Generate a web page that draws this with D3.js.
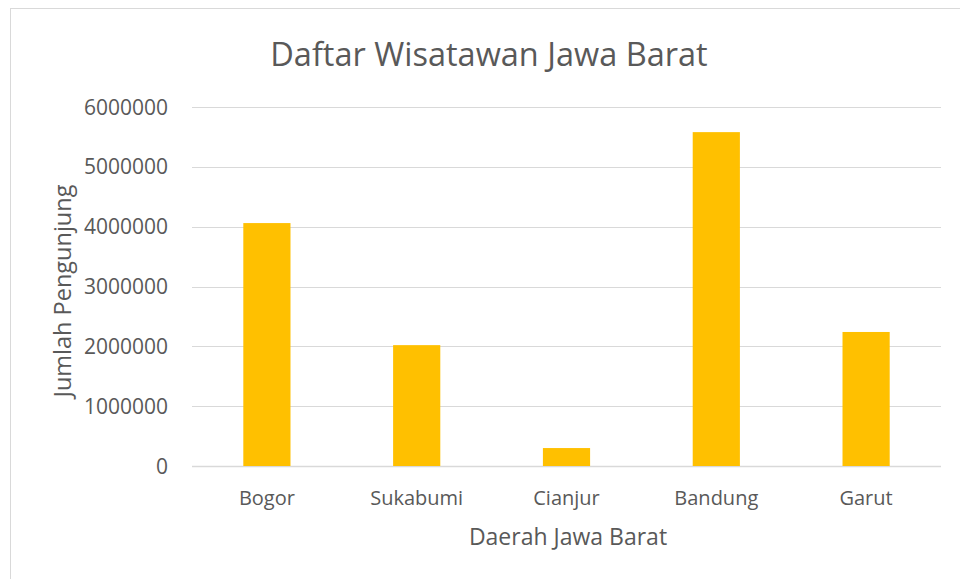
<!DOCTYPE html>
<html>
<head>
<meta charset="utf-8">
<script src="https://cdn.jsdelivr.net/npm/d3@7"></script>
<style>
  body { margin: 0; background: #fff; }
  svg text { font-family: 'Open Sans', sans-serif; fill: #595959; }
</style>
</head>
<body>
<svg id="chart"></svg>
<script>
var width = 960,
    height = 579;

// data
let categories = ['Bogor', 'Sukabumi', 'Cianjur', 'Bandung', 'Garut'];
let visitors = [4060000, 2020000, 300000, 5580000, 2240000];
let yTicks = [0, 1000000, 2000000, 3000000, 4000000, 5000000, 6000000];

let svg = d3.select('#chart').attr('width', width).attr('height', height);

// outer chart border
svg.append('rect')
    .attr('x', 10.5).attr('y', 8.5)
    .attr('width', width + 10).attr('height', height + 10)
    .attr('fill', 'none')
    .attr('stroke', '#d9d9d9');

let plotLeft = 192, plotRight = 941, plotTop = 107, plotBottom = 466;

let x = d3.scaleBand().domain(categories).range([plotLeft, plotRight]).paddingInner(0.685).paddingOuter(0.3425);
let y = d3.scaleLinear().domain([0, 6000000]).range([plotBottom, plotTop]);

// gridlines
svg.append('g').selectAll('line')
    .data(yTicks)
    .enter()
    .append('line')
    .attr('x1', plotLeft).attr('x2', plotRight)
    .attr('y1', function(d) { return Math.round(y(d)) + 0.5; })
    .attr('y2', function(d) { return Math.round(y(d)) + 0.5; })
    .attr('stroke', '#d9d9d9')
    .attr('stroke-width', function(d) { return d === 0 ? 1.5 : 1.2; });

// y tick labels
svg.append('g').selectAll('text')
    .data(yTicks)
    .enter()
    .append('text')
    .attr('x', 168)
    .attr('y', function(d) { return y(d); })
    .attr('dy', '0.36em')
    .attr('text-anchor', 'end')
    .attr('font-size', '21px')
    .text(function(d) { return d; });

// bars
svg.append('g').selectAll('rect')
    .data(visitors)
    .enter()
    .append('rect')
    .attr('x', function(d, i) { return x(categories[i]); })
    .attr('width', x.bandwidth())
    .attr('y', function(d) { return y(d); })
    .attr('height', function(d) { return y(0) - y(d); })
    .attr('fill', '#ffc000');

// x labels
svg.append('g').selectAll('text')
    .data(categories)
    .enter()
    .append('text')
    .attr('x', function(d) { return x(d) + x.bandwidth() / 2; })
    .attr('y', 505)
    .attr('text-anchor', 'middle')
    .attr('font-size', '20px')
    .text(function(d) { return d; });

// title
svg.append('text')
    .attr('x', 489).attr('y', 66)
    .attr('text-anchor', 'middle')
    .attr('font-size', '32.5px')
    .text('Daftar Wisatawan Jawa Barat');

// axis titles
svg.append('text')
    .attr('x', 568).attr('y', 545)
    .attr('text-anchor', 'middle')
    .attr('font-size', '23px')
    .text('Daerah Jawa Barat');

svg.append('text')
    .attr('transform', 'translate(71,291) rotate(-90)')
    .attr('text-anchor', 'middle')
    .attr('font-size', '23.5px')
    .text('Jumlah Pengunjung');
</script>
</body>
</html>
